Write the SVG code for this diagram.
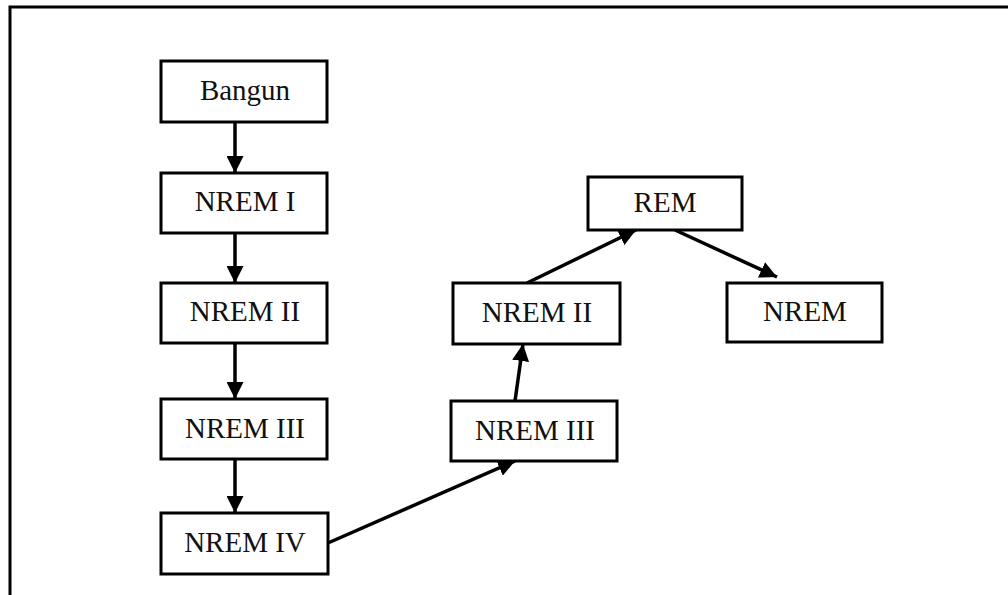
<svg xmlns="http://www.w3.org/2000/svg" width="1008" height="595" viewBox="0 0 1008 595">
<style>
.box{fill:#fff;stroke:#000;stroke-width:3}
.lbl{font-family:"Liberation Serif","Times New Roman",serif;font-size:29px;fill:#111;text-anchor:middle}
.con{stroke:#000;stroke-width:3.5;fill:none;marker-end:url(#ah)}
</style>
<defs>
<marker id="ah" markerUnits="userSpaceOnUse" markerWidth="17" markerHeight="17" viewBox="0 0 17 17" refX="17" refY="8.5" orient="auto">
<path d="M0,0 L17,8.5 L0,17 z" fill="#000"/>
</marker>
</defs>
<rect width="1008" height="595" fill="#fff"/>
<g id="frame">
<path d="M10,595 L10,7 L1008,7" fill="none" stroke="#000" stroke-width="3"/>
</g>
<g id="connectors">
<line class="con" x1="235" y1="122" x2="235" y2="173"/>
<line class="con" x1="235" y1="233" x2="235" y2="283"/>
<line class="con" x1="235" y1="343" x2="235" y2="399"/>
<line class="con" x1="235" y1="459" x2="235" y2="513"/>
<line class="con" x1="328" y1="543" x2="515" y2="461"/>
<line class="con" x1="515" y1="401" x2="523" y2="344"/>
<line class="con" x1="527" y1="283" x2="636" y2="230"/>
<line class="con" x1="675" y1="230" x2="777" y2="277"/>
</g>
<g id="bangun"><rect class="box" x="161" y="61" width="166" height="61"/><text class="lbl" x="245" y="100">Bangun</text></g>
<g id="nrem1"><rect class="box" x="161" y="173" width="166" height="60"/><text class="lbl" x="245" y="211">NREM I</text></g>
<g id="nrem2a"><rect class="box" x="161" y="283" width="166" height="60"/><text class="lbl" x="245" y="321">NREM II</text></g>
<g id="nrem3a"><rect class="box" x="161" y="399" width="166" height="60"/><text class="lbl" x="245" y="438">NREM III</text></g>
<g id="nrem4"><rect class="box" x="161" y="513" width="167" height="61"/><text class="lbl" x="245" y="552">NREM IV</text></g>
<g id="nrem3b"><rect class="box" x="451" y="401" width="166" height="60"/><text class="lbl" x="535" y="440">NREM III</text></g>
<g id="nrem2b"><rect class="box" x="453" y="283" width="167" height="61"/><text class="lbl" x="537" y="322">NREM II</text></g>
<g id="rem"><rect class="box" x="588" y="177" width="154" height="53"/><text class="lbl" x="665" y="212">REM</text></g>
<g id="nrem"><rect class="box" x="727" y="283" width="155" height="59"/><text class="lbl" x="805" y="321">NREM</text></g>
</svg>
